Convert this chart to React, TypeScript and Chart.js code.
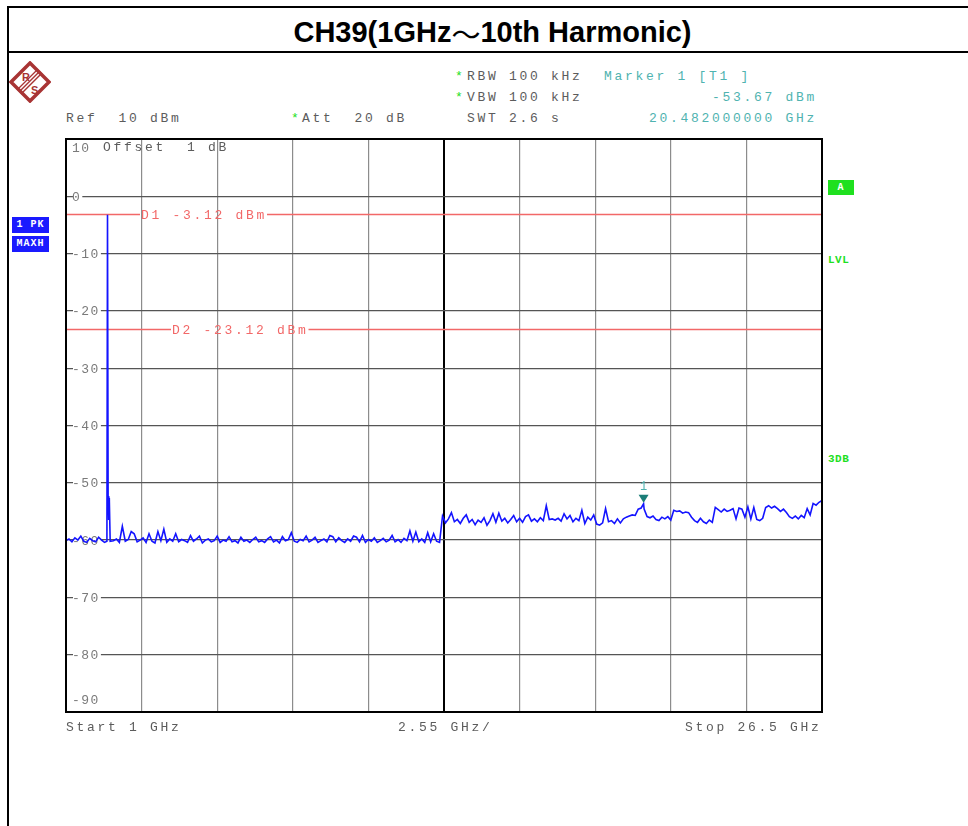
import React, { useEffect, useRef } from "react";
import { Chart, registerables } from "chart.js";

Chart.register(...registerables);

// ---------- data ----------
const traceGHz = [
  1.0, 1.1, 1.2, 1.3, 1.4, 1.5, 1.6, 1.7, 1.8, 1.9,
  2.0, 2.1, 2.2, 2.3, 2.38, 2.4, 2.42, 2.44, 2.46, 2.49, 2.6, 2.7, 2.8, 2.9,
  3.0, 3.1, 3.2, 3.3, 3.4, 3.5, 3.6, 3.7, 3.8, 3.9,
  4.0, 4.1, 4.2, 4.3, 4.4, 4.5, 4.6, 4.7, 4.8, 4.9,
  5.0, 5.1, 5.2, 5.3, 5.4, 5.5, 5.6, 5.7, 5.8, 5.9,
  6.0, 6.1, 6.2, 6.3, 6.4, 6.5, 6.6, 6.7, 6.8, 6.9,
  7.0, 7.1, 7.2, 7.3, 7.4, 7.5, 7.6, 7.7, 7.8, 7.9,
  8.0, 8.1, 8.2, 8.3, 8.4, 8.5, 8.6, 8.7, 8.8, 8.9,
  9.0, 9.1, 9.2, 9.3, 9.4, 9.5, 9.6, 9.7, 9.8, 9.9,
  10.0, 10.1, 10.2, 10.3, 10.4, 10.5, 10.6, 10.7, 10.8, 10.9,
  11.0, 11.1, 11.2, 11.3, 11.4, 11.5, 11.6, 11.7, 11.8, 11.9,
  12.0, 12.1, 12.2, 12.3, 12.4, 12.5, 12.6, 12.7, 12.8, 12.9,
  13.0, 13.1, 13.2, 13.3, 13.4, 13.5, 13.6, 13.7, 13.8, 13.9,
  14.0, 14.1, 14.2, 14.3, 14.4, 14.5, 14.6, 14.7, 14.8, 14.9,
  15.0, 15.1, 15.2, 15.3, 15.4, 15.5, 15.6, 15.7, 15.8, 15.9,
  16.0, 16.1, 16.2, 16.3, 16.4, 16.5, 16.6, 16.7, 16.8, 16.9,
  17.0, 17.1, 17.2, 17.3, 17.4, 17.5, 17.6, 17.7, 17.8, 17.9,
  18.0, 18.1, 18.2, 18.3, 18.4, 18.5, 18.6, 18.7, 18.8, 18.9,
  19.0, 19.1, 19.2, 19.3, 19.4, 19.5, 19.6, 19.7, 19.8, 19.9,
  20.0, 20.1, 20.2, 20.3, 20.4, 20.482, 20.5, 20.6, 20.7, 20.8, 20.9,
  21.0, 21.1, 21.2, 21.3, 21.4, 21.5, 21.6, 21.7, 21.8, 21.9,
  22.0, 22.1, 22.2, 22.3, 22.4, 22.5, 22.6, 22.7, 22.8, 22.9,
  23.0, 23.1, 23.2, 23.3, 23.4, 23.5, 23.6, 23.7, 23.8, 23.9,
  24.0, 24.1, 24.2, 24.3, 24.4, 24.5, 24.6, 24.7, 24.8, 24.9,
  25.0, 25.1, 25.2, 25.3, 25.4, 25.5, 25.6, 25.7, 25.8, 25.9,
  26.0, 26.1, 26.2, 26.3, 26.4, 26.5,
];

const traceDbm = [
  -60.1, -59.8, -60.3, -59.6, -60.0, -59.3, -60.2, -60.4, -59.7, -60.1,
  -60.3, -59.5, -60.0, -60.4, -60.2, -3.2, -52.3, -56.5, -52.6, -60.2, -60.1, -59.8, -60.4, -57.6,
  -60.2, -59.9, -58.5, -58.9, -60.3, -60.0, -59.6, -60.4, -58.9, -60.2,
  -60.5, -58.5, -60.1, -58.1, -60.4, -59.8, -60.2, -58.9, -60.3, -59.9,
  -60.1, -60.4, -59.2, -60.2, -59.8, -59.3, -60.5, -60.0, -59.8, -60.3,
  -60.1, -59.3, -60.4, -60.0, -60.2, -59.4, -60.3, -60.1, -60.5, -59.5,
  -60.2, -60.0, -60.4, -59.9, -59.5, -60.3, -60.1, -60.4, -59.8, -59.4,
  -60.3, -60.0, -60.5, -59.4, -60.1, -59.9, -58.7, -60.2, -60.4, -59.9,
  -60.1, -59.3, -60.3, -60.0, -59.5, -60.4, -60.1, -59.8, -60.3, -59.2,
  -59.4, -60.3, -59.6, -60.1, -60.4, -59.8, -60.2, -59.3, -59.5, -60.3,
  -59.2, -60.4, -59.9, -60.2, -59.6, -60.4, -60.1, -59.7, -60.3, -60.0,
  -59.2, -60.3, -59.9, -60.4, -59.7, -60.1, -58.4, -60.2, -58.6, -60.3,
  -59.8, -60.4, -58.7, -60.3, -58.9, -60.2, -60.4, -55.8, -57.0, -56.3,
  -55.2, -56.8, -56.4, -57.1, -56.2, -55.6, -56.9, -56.4, -57.3, -56.5,
  -56.9, -56.1, -57.4, -56.6, -55.4, -56.9, -55.3, -56.7, -56.2, -57.0,
  -56.4, -55.7, -56.8, -56.2, -56.9, -55.9, -55.6, -56.7, -56.3, -56.8,
  -56.1, -56.6, -54.0, -56.4, -56.3, -56.5, -56.2, -56.7, -55.4, -56.3,
  -55.7, -56.8, -56.2, -56.6, -54.8, -57.1, -56.0, -56.5, -55.6, -57.2,
  -57.4, -57.0, -54.5, -56.8, -56.6, -57.1, -56.3, -57.0, -56.3, -56.0,
  -55.8, -55.6, -55.7, -54.6, -54.4, -53.67, -54.6, -55.9, -56.1, -55.8, -56.4,
  -56.6, -56.0, -56.3, -55.9, -56.5, -54.8, -55.0, -54.9, -55.3, -55.1,
  -55.2, -56.0, -56.6, -56.9, -56.2, -56.8, -57.1, -56.5, -56.9, -54.3,
  -54.7, -55.1, -54.6, -55.0, -54.8, -54.5, -56.3, -54.4, -54.6, -56.0,
  -54.2, -56.3, -54.3, -56.4, -56.6, -56.2, -54.3, -54.0, -54.4, -54.1,
  -54.5, -55.0, -54.6, -55.2, -55.9, -56.2, -55.8, -56.3, -55.7, -56.1,
  -54.5, -55.6, -53.6, -53.9, -53.4, -53.1,
];

const xGridGHz = [1, 3.55, 6.1, 8.65, 11.2, 13.75, 16.3, 18.85, 21.4, 23.95, 26.5];
const yGridDbm = [10, 0, -10, -20, -30, -40, -50, -60, -70, -80, -90];
const displayLineNames = ["D1", "D2"];
const displayLineDbm = [-3.12, -23.12];
const markerGHz = 20.482;
const markerDbm = -53.67;
const markerName = "1";

// ---------- styles ----------
const MONO = "'Liberation Mono', 'DejaVu Sans Mono', monospace";
const GRAY = "#5c5c5c";
const TEAL = "#4fb3b0";
const GREEN = "#1fe01f";
const RED = "#f26868";
const SPACING = "2.7px";
const displayLabelOffsets = [75, 106];

const overlayPlugin = {
  id: "overlay",
  beforeDatasetsDraw(chart: any) {
    const { ctx, chartArea: a, scales } = chart;
    const ys = scales.y;
    ctx.save();
    ctx.font = `13px ${MONO}`;
    ctx.textBaseline = "middle";
    ctx.textAlign = "left";
    const last = yGridDbm.length - 1;
    (ctx as any).letterSpacing = "1.5px";
    yGridDbm.forEach((v, i) => {
      const label = String(v);
      let py = ys.getPixelForValue(v);
      if (i === 0) py = a.top + 9;
      else if (i === last) py = a.bottom - 12;
      const tx = a.left + 6;
      const w = ctx.measureText(label).width;
      if (i > 0 && i < last) {
        ctx.fillStyle = "#ffffff";
        ctx.fillRect(tx + 1, py - 3, w, 6);
      }
      ctx.fillStyle = "#7a7a7a";
      ctx.fillText(label, tx, py + 1);
    });
    (ctx as any).letterSpacing = SPACING;
    // display lines
    displayLineDbm.forEach((v, i) => {
      const py = Math.round(ys.getPixelForValue(v)) + 0.5;
      const label = `${displayLineNames[i]} ${v.toFixed(2)} dBm`;
      const tx = a.left + displayLabelOffsets[i];
      const w = ctx.measureText(label).width;
      ctx.strokeStyle = RED;
      ctx.lineWidth = 1.3;
      ctx.beginPath();
      ctx.moveTo(a.left, py);
      ctx.lineTo(tx - 1, py);
      ctx.moveTo(tx + w, py);
      ctx.lineTo(a.right, py);
      ctx.stroke();
      ctx.fillStyle = RED;
      ctx.fillText(label, tx, py + 1);
    });
    ctx.restore();
  },
  afterDatasetsDraw(chart: any) {
    const { ctx, chartArea: a, scales } = chart;
    ctx.save();
    const mx = scales.x.getPixelForValue(markerGHz);
    const my = scales.y.getPixelForValue(markerDbm);
    ctx.fillStyle = "#1b7e78";
    ctx.beginPath();
    ctx.moveTo(mx - 5, my - 9);
    ctx.lineTo(mx + 5, my - 9);
    ctx.lineTo(mx, my - 1);
    ctx.closePath();
    ctx.fill();
    ctx.fillStyle = TEAL;
    ctx.font = `12px ${MONO}`;
    ctx.textAlign = "center";
    ctx.textBaseline = "middle";
    ctx.fillText(markerName, mx, my - 17);
    // frame
    ctx.strokeStyle = "#000";
    ctx.lineWidth = 2;
    ctx.strokeRect(a.left, a.top, a.right - a.left, a.bottom - a.top);
    ctx.restore();
  },
};

function Txt(props: { s: string; x: number; y: number; color?: string; size?: number; bold?: boolean; ls?: string }) {
  const { s, x, y, color = GRAY, size = 13, bold = false, ls = SPACING } = props;
  return (
    <div
      style={{
        position: "absolute",
        left: x,
        top: y - 8,
        height: 16,
        lineHeight: "16px",
        fontFamily: MONO,
        fontSize: size,
        fontWeight: bold ? 700 : 400,
        letterSpacing: ls,
        color,
        whiteSpace: "pre",
      }}
    >
      {s}
    </div>
  );
}

function Badge(props: { s: string; x: number; y: number; w: number; h: number; bg: string }) {
  const { s, x, y, w, h, bg } = props;
  return (
    <div
      style={{
        position: "absolute",
        left: x,
        top: y,
        width: w,
        height: h,
        background: bg,
        color: "#fff",
        fontFamily: MONO,
        fontWeight: 700,
        fontSize: 10,
        lineHeight: `${h}px`,
        letterSpacing: "1px",
        textAlign: "center",
        whiteSpace: "pre",
      }}
    >
      {s}
    </div>
  );
}

function Logo() {
  return (
    <svg width={42} height={42} style={{ position: "absolute", left: 9, top: 61 }} viewBox="0 0 42 42">
      <polygon points="21,2 40,21 21,40 2,21" fill="none" stroke="#a83434" strokeWidth={3.5} />
      <line x1={10} y1={31} x2={31} y2={10} stroke="#a83434" strokeWidth={1.5} />
      <line x1={12} y1={33} x2={33} y2={12} stroke="#a83434" strokeWidth={1.5} />
      <line x1={8} y1={29} x2={29} y2={8} stroke="#a83434" strokeWidth={1.2} />
      <text x={13} y={20} fontSize={11} fill="#a83434" fontFamily="'Liberation Sans', Arial" fontWeight={700}>R</text>
      <text x={22} y={33} fontSize={11} fill="#a83434" fontFamily="'Liberation Sans', Arial" fontWeight={700}>S</text>
    </svg>
  );
}

export default function App() {
  const canvasRef = useRef<HTMLCanvasElement | null>(null);

  useEffect(() => {
    const canvas = canvasRef.current;
    if (!canvas) return;
    const points = traceGHz.map((f, i) => ({ x: f, y: traceDbm[i] }));
    const chart = new Chart(canvas, {
      type: "line",
      data: {
        datasets: [
          {
            data: points,
            borderColor: "#1414ff",
            borderWidth: 1.6,
            pointRadius: 0,
            tension: 0,
            fill: false,
          },
        ],
      },
      options: {
        animation: false,
        responsive: false,
        maintainAspectRatio: false,
        events: [],
        layout: { padding: 10 },
        plugins: {
          legend: { display: false },
          tooltip: { enabled: false },
          title: { display: false },
        },
        scales: {
          x: {
            type: "linear",
            min: xGridGHz[0],
            max: xGridGHz[xGridGHz.length - 1],
            afterBuildTicks: (s: any) => {
              s.ticks = xGridGHz.map((v) => ({ value: v }));
            },
            afterFit: (s: any) => {
              s.height = 0;
            },
            ticks: { display: false },
            border: { display: false },
            grid: {
              drawTicks: false,
              color: (c: any) => (c.index === 5 ? "#000000" : "#8c8c8c"),
              lineWidth: (c: any) => (c.index === 5 ? 2 : 1.2),
            },
          },
          y: {
            type: "linear",
            min: yGridDbm[yGridDbm.length - 1],
            max: yGridDbm[0],
            afterBuildTicks: (s: any) => {
              s.ticks = yGridDbm.map((v) => ({ value: v }));
            },
            afterFit: (s: any) => {
              s.width = 0;
            },
            ticks: { display: false },
            border: { display: false },
            grid: {
              drawTicks: false,
              color: "#555555",
              lineWidth: 1.2,
            },
          },
        },
      } as any,
      plugins: [overlayPlugin as any],
    });
    return () => chart.destroy();
  }, []);

  return (
    <div
      style={{
        position: "absolute",
        left: 0,
        top: 0,
        width: 968,
        height: 826,
        background: "#fff",
        overflow: "hidden",
      }}
    >
      {/* table borders */}
      <div style={{ position: "absolute", left: 7, top: 6, width: 2, height: 820, background: "#000" }} />
      <div style={{ position: "absolute", left: 7, top: 6, width: 961, height: 2, background: "#000" }} />
      <div style={{ position: "absolute", left: 7, top: 51, width: 961, height: 2, background: "#000" }} />
      <div
        style={{
          position: "absolute",
          left: 9,
          top: 11,
          width: 967,
          height: 43,
          display: "flex",
          alignItems: "center",
          justifyContent: "center",
          fontFamily: "'Liberation Sans', Arial, sans-serif",
          fontWeight: 700,
          fontSize: 29,
          color: "#000",
          whiteSpace: "pre",
        }}
      >
        CH39(1GHz<span style={{ fontFamily: "'Noto Sans CJK JP'", fontWeight: 400 }}>～</span>10th Harmonic)
      </div>

      <Logo />

      {/* header annotations */}
      <Txt s="*" x={455} y={77} color={GREEN} />
      <Txt s="RBW 100 kHz" x={467} y={77} />
      <Txt s="Marker 1 [T1 ]" x={604} y={77} color={TEAL} />
      <Txt s="*" x={455} y={98} color={GREEN} />
      <Txt s="VBW 100 kHz" x={467} y={98} />
      <Txt s="-53.67 dBm" x={712} y={98} color={TEAL} />
      <Txt s="SWT 2.6 s" x={467} y={119} />
      <Txt s="20.482000000 GHz" x={649} y={119} color={TEAL} />
      <Txt s="Ref  10 dBm" x={66} y={119} />
      <Txt s="*" x={291} y={119} color={GREEN} />
      <Txt s="Att  20 dB" x={302} y={119} />

      {/* side badges */}
      <Badge s="1 PK" x={12} y={217} w={37} h={16} bg="#1a1aff" />
      <Badge s="MAXH" x={12} y={236} w={37} h={16} bg="#1a1aff" />
      <Badge s="A" x={828} y={180} w={26} h={15} bg={GREEN} />
      <Txt s="LVL" x={828} y={260} color={GREEN} size={11} bold ls="0.5px" />
      <Txt s="3DB" x={828} y={459} color={GREEN} size={11} bold ls="0.5px" />

      <canvas
        ref={canvasRef}
        width={776}
        height={593}
        style={{ position: "absolute", left: 56, top: 129, width: 776, height: 593 }}
      />

      <Txt s="Offset  1 dB" x={103} y={148} />

      {/* bottom annotations */}
      <Txt s="Start 1 GHz" x={66} y={728} />
      <Txt s="2.55 GHz/" x={398} y={728} />
      <Txt s="Stop 26.5 GHz" x={685} y={728} />
    </div>
  );
}
